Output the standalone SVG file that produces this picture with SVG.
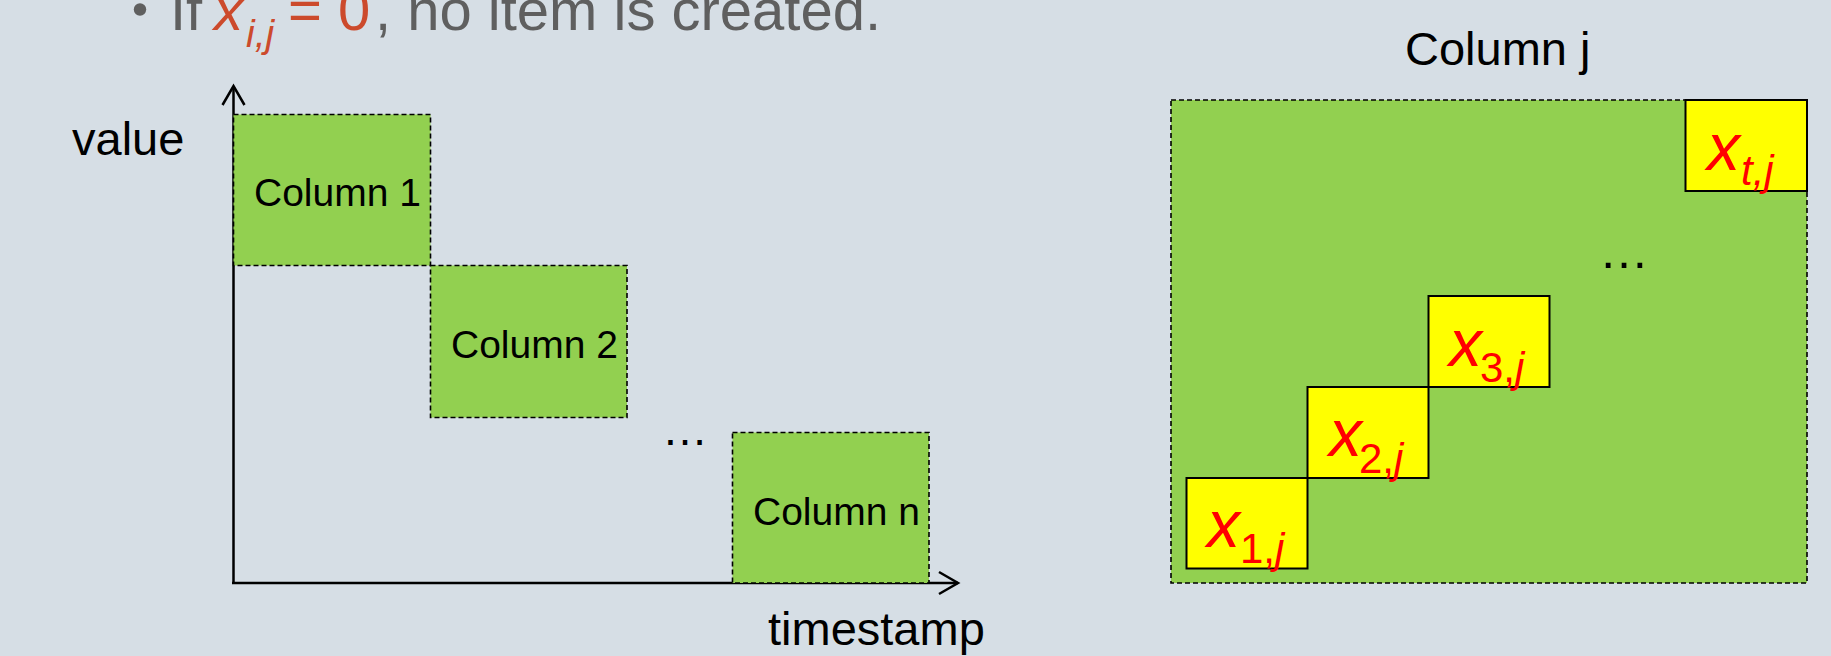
<svg xmlns="http://www.w3.org/2000/svg" width="1831" height="656" viewBox="0 0 1831 656">
<style>
  .bg { fill: #D6DEE5; }
  .col { fill: #92D050; stroke: #000; stroke-width: 1.6; stroke-dasharray: 5 3; }
  .cell { fill: #FFFF00; stroke: #000; stroke-width: 2; }
  .axis { stroke: #000; stroke-width: 2.5; fill: none; }
  .lbl { font-family: "Liberation Sans", Arial, sans-serif; fill: #000; }
  .bul { font-family: "Liberation Sans", Arial, sans-serif; fill: #5F5F5F; font-size: 58px; }
  .bulred { font-family: "Liberation Sans", Arial, sans-serif; fill: #CC4A2C; }
  .xv { font-family: "Liberation Sans", Arial, sans-serif; fill: #FF0000; }
</style>
<defs>
  <marker id="arr" markerUnits="userSpaceOnUse" markerWidth="24" markerHeight="26" viewBox="0 0 24 26" refX="21" refY="13" orient="auto">
    <path d="M2,2 L21,13 L2,24" fill="none" stroke="#000" stroke-width="2.5"/>
  </marker>
</defs>
<rect class="bg" x="0" y="0" width="1831" height="656"/>

<g id="bullet">
  <circle cx="140" cy="9.5" r="6.2" fill="#5F5F5F"/>
  <text class="bul" x="170" y="29.5">If</text>
  <text class="bulred" x="214" y="29.5" font-size="58" font-style="italic">x</text>
  <text class="bulred" x="246" y="46.5" font-size="39" font-style="italic">i,j</text>
  <text class="bulred" x="288" y="29.5" font-size="58">= 0</text>
  <text class="bul" x="375" y="29.5">, no item is created.</text>
</g>

<g id="connectors">
  <line class="axis" x1="233.5" y1="584" x2="233.5" y2="86" marker-end="url(#arr)"/>
  <line class="axis" x1="232" y1="583" x2="958" y2="583" marker-end="url(#arr)"/>
</g>

<g id="label-value"><text class="lbl" x="72" y="155" font-size="47">value</text></g>
<g id="label-timestamp"><text class="lbl" x="768" y="645" font-size="47">timestamp</text></g>

<g id="column1">
  <rect class="col" x="233.5" y="114.5" width="197" height="151"/>
  <text class="lbl" x="254" y="206" font-size="39">Column 1</text>
</g>
<g id="column2">
  <rect class="col" x="430.5" y="265.5" width="196.5" height="152"/>
  <text class="lbl" x="451" y="357.5" font-size="39">Column 2</text>
</g>
<g id="ellipsis-left"><text class="lbl" x="662" y="445" font-size="46">…</text></g>
<g id="columnn">
  <rect class="col" x="732.5" y="432.5" width="196.5" height="150.5"/>
  <text class="lbl" x="753" y="525" font-size="39">Column n</text>
</g>

<g id="columnj-title"><text class="lbl" x="1405" y="65" font-size="47">Column j</text></g>
<g id="columnj">
  <rect class="col" x="1171" y="100" width="636" height="483"/>
</g>
<g id="cell-t">
  <rect class="cell" x="1685.5" y="100" width="121.5" height="91"/>
  <text class="xv" x="1707" y="170" font-size="66" font-style="italic">x</text>
  <text class="xv" x="1741" y="185" font-size="42" font-style="italic">t,j</text>
</g>
<g id="ellipsis-right"><text class="lbl" x="1599" y="268" font-size="50">…</text></g>
<g id="cell-3">
  <rect class="cell" x="1428.5" y="296" width="121" height="91"/>
  <text class="xv" x="1449" y="366" font-size="66" font-style="italic">x</text>
  <text class="xv" x="1480" y="382" font-size="42">3,<tspan font-style="italic">j</tspan></text>
</g>
<g id="cell-2">
  <rect class="cell" x="1307.5" y="387" width="121" height="91"/>
  <text class="xv" x="1329" y="456" font-size="66" font-style="italic">x</text>
  <text class="xv" x="1359" y="473" font-size="42">2,<tspan font-style="italic">j</tspan></text>
</g>
<g id="cell-1">
  <rect class="cell" x="1186.5" y="478" width="121" height="90.5"/>
  <text class="xv" x="1207" y="547" font-size="66" font-style="italic">x</text>
  <text class="xv" x="1240" y="563" font-size="42">1,<tspan font-style="italic">j</tspan></text>
</g>
</svg>
